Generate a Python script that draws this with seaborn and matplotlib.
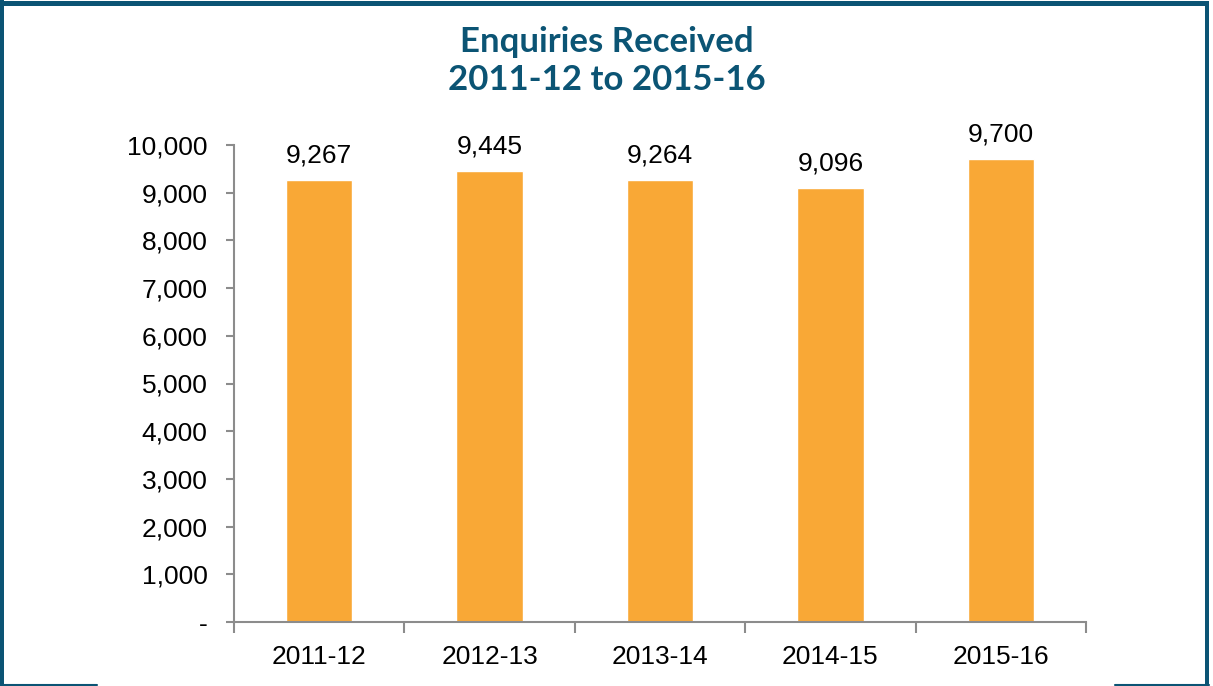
import matplotlib
matplotlib.use("Agg")
import matplotlib.pyplot as plt
import matplotlib.ticker as mticker
from matplotlib.patches import Rectangle
from matplotlib.lines import Line2D
import seaborn as sns
import pandas as pd

# Data
years = ["2011-12", "2012-13", "2013-14", "2014-15", "2015-16"]
enquiries = [9267, 9445, 9264, 9096, 9700]

bar_color = "#F9A836"
teal = "#0B5474"

sns.set_style("white")
plt.rcParams["font.family"] = ["Liberation Sans", "DejaVu Sans"]
plt.rcParams["text.color"] = "black"
plt.rcParams["xtick.color"] = "black"
plt.rcParams["ytick.color"] = "black"

df = pd.DataFrame({"Year": years, "Enquiries": enquiries})

fig = plt.figure(figsize=(12.13, 6.86), dpi=100)
ax = fig.add_axes([234 / 1213, 1 - 622 / 686, (1086 - 234) / 1213, (622 - 145) / 686])

sns.barplot(data=df, x="Year", y="Enquiries", color=bar_color, width=0.39,
            saturation=1, ax=ax)

ax.set_ylim(0, 10000)
ax.set_xlim(-0.5, len(years) - 0.5)
ax.yaxis.set_major_locator(mticker.MultipleLocator(1000))
ax.yaxis.set_major_formatter(mticker.FuncFormatter(lambda v, p: "-" if v == 0 else f"{int(v):,}"))

# x ticks between categories
ax.set_xticks([i - 0.5 for i in range(len(years) + 1)], minor=True)
ax.tick_params(axis="x", which="major", bottom=False, labelsize=19, pad=13)
ax.tick_params(axis="x", which="minor", bottom=True, length=8, width=1.5,
               color="#8c8c8c", direction="out")
ax.tick_params(axis="y", left=True, length=6, width=1.5, color="#8c8c8c",
               labelcolor="black", direction="out", labelsize=19, pad=13)
ax.set_xlabel("")
ax.set_ylabel("")

for s in ["top", "right"]:
    ax.spines[s].set_visible(False)
for s in ["left", "bottom"]:
    ax.spines[s].set_color("#8c8c8c")
    ax.spines[s].set_linewidth(1.5)

# value labels
for p, v in zip(ax.patches, enquiries):
    ax.annotate(f"{v:,}", (p.get_x() + p.get_width() / 2, p.get_height()),
                xytext=(0, 9), textcoords="offset points",
                ha="center", va="bottom", fontsize=19, color="black")

fig.text(0.5, 1 - 42 / 686, "Enquiries Received", ha="center", va="center",
         fontsize=25, fontweight="bold", color=teal, family=["Lato", "DejaVu Sans"])
fig.text(0.5, 1 - 80 / 686, "2011-12 to 2015-16", ha="center", va="center",
         fontsize=25, fontweight="bold", color=teal, family=["Lato", "DejaVu Sans"])

# frame around the chart (cropped at the bottom)
W, H = 1213, 686
fig.add_artist(Rectangle((0, 0), 4 / W, 1, transform=fig.transFigure, color=teal, lw=0))
fig.add_artist(Rectangle((0, 1 - 6 / H), 1209 / W, 5 / H, transform=fig.transFigure, color=teal, lw=0))
fig.add_artist(Rectangle((1205 / W, 0), 4 / W, 1 - 1 / H, transform=fig.transFigure, color=teal, lw=0))
fig.add_artist(Line2D([0, 97 / W], [1.5 / H, 1.5 / H], transform=fig.transFigure, color=teal, lw=1.5))
fig.add_artist(Line2D([1115 / W, 1209 / W], [1.5 / H, 1.5 / H], transform=fig.transFigure, color=teal, lw=1.5))

fig.savefig("out.png", dpi=100)
